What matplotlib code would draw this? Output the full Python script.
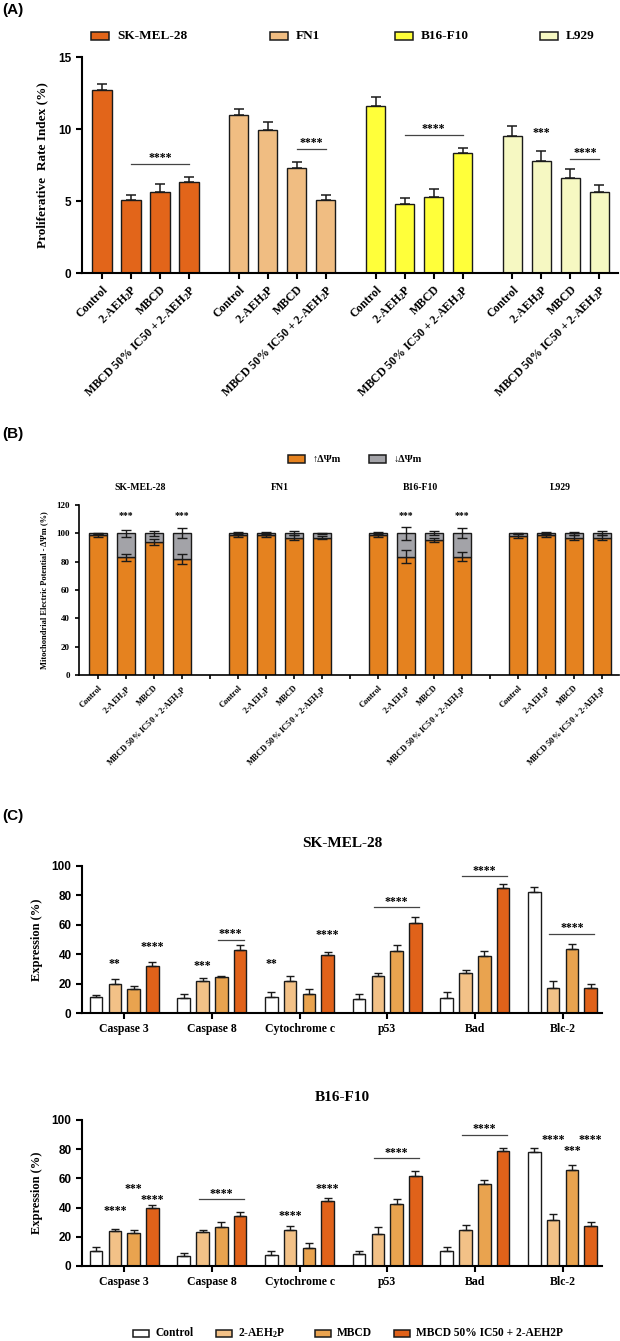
import numpy as np
import matplotlib
matplotlib.use("Agg")
import matplotlib.pyplot as plt
from matplotlib.patches import Rectangle

# ---- data -------------------------------------------------------------
cells = ["SK-MEL-28", "FN1", "B16-F10", "L929"]
treat_labels = ["Control", "2-AEH$_2$P", "MBCD", "MBCD 50% IC50 + 2-AEH$_2$P"]

# (A) proliferative rate index (%)
prolif_mean = [[12.7, 5.1, 5.6, 6.3],
               [11.0, 9.9, 7.3, 5.1],
               [11.6, 4.8, 5.3, 8.3],
               [9.5, 7.8, 6.6, 5.6]]
prolif_err = [[0.4, 0.3, 0.6, 0.4],
              [0.4, 0.6, 0.4, 0.3],
              [0.6, 0.4, 0.5, 0.4],
              [0.7, 0.7, 0.6, 0.5]]
# (group, first bar, last bar, height, stars)
prolif_lines = [(0, 1, 3, 7.6, "****"), (1, 2, 3, 8.6, "****"),
                (2, 1, 3, 9.6, "****"), (3, 2, 3, 7.9, "****")]
prolif_stars = [(3, 1, 9.7, "***")]

# (B) mitochondrial potential, share of high potential (rest up to 100 is low)
dpsi_high = [[98.5, 83.0, 94.0, 82.0],
             [98.5, 98.5, 97.0, 97.0],
             [98.5, 83.5, 95.5, 83.5],
             [98.0, 98.5, 97.0, 97.0]]
dpsi_high_err = [[1.0, 2.5, 2.0, 3.5],
                 [1.0, 1.0, 1.5, 1.0],
                 [1.0, 4.5, 1.5, 3.0],
                 [1.5, 1.0, 1.5, 1.5]]
dpsi_low_err = [[0.5, 2.5, 2.0, 3.5],
                [1.0, 1.0, 1.5, 0.5],
                [1.0, 4.5, 1.5, 3.5],
                [0.5, 1.0, 1.0, 1.5]]
dpsi_stars = [(0, 1), (0, 3), (2, 1), (2, 3)]

# (C) protein expression (%)
proteins = ["Caspase 3", "Caspase 8", "Cytochrome c", "p53", "Bad", "Blc-2"]
c_labels = ["Control", "2-AEH$_2$P", "MBCD", "MBCD 50% IC50 + 2-AEH2P"]
sk_expr = [[11, 20, 16, 32], [10, 22, 24.5, 43], [11, 21.5, 13, 39.5],
           [9.5, 25, 42.5, 61.5], [10.5, 27.5, 39, 85], [82, 17, 43.5, 17]]
sk_err = [[1.5, 3, 2.5, 3], [3, 2, 1, 3], [3, 4, 3, 2],
          [3.5, 2, 4, 3.5], [3.5, 2, 3.5, 3], [4, 4.5, 3.5, 2.5]]
sk_lines = [(1, 2, 3, 50), (3, 1, 3, 72), (4, 1, 3, 93), (5, 1, 3, 54)]
sk_stars = [(0, 1, 33, "**"), (0, 3, 45, "****"), (1, 1, 32, "***"),
            (2, 0, 33, "**"), (2, 3, 53, "****")]
b16_expr = [[10.5, 24, 22.5, 39.5], [7, 23, 26.5, 34.5], [7.5, 24.5, 12.5, 44.5],
            [8, 22, 42.5, 61.5], [10, 25, 56, 78.5], [78, 31.5, 66, 27.5]]
b16_err = [[2.5, 1.5, 2, 2], [2, 1.5, 3.5, 2.5], [3, 3, 3.5, 2],
           [2.5, 4.5, 3.5, 3.5], [3, 3, 3, 2], [3, 4, 3.5, 2.5]]
b16_lines = [(1, 1, 3, 46), (3, 1, 3, 74), (4, 1, 3, 90)]
b16_stars = [(0, 1, 38, "****"), (0, 2, 53, "***"), (0, 3, 45, "****"),
             (2, 1, 34, "****"), (2, 3, 53, "****"),
             (5, 1, 86, "****"), (5, 2, 79, "***"), (5, 3, 86, "****")]

cell_colors = ["#E2651A", "#F0BD82", "#FFFF3A", "#F6F8C2"]
c_colors = ["#FFFFFF", "#F2C187", "#E9A34F", "#E0621A"]
high_color, low_color = "#E5821F", "#A3A3A8"

# ---- layout helpers ---------------------------------------------------
W, H = 620, 1341
SERIF = ["Liberation Serif", "DejaVu Serif"]
SANS = ["Liberation Sans", "DejaVu Sans"]
plt.rcParams["mathtext.fontset"] = "custom"
plt.rcParams["mathtext.rm"] = "Liberation Serif:bold"
plt.rcParams["mathtext.it"] = "Liberation Serif:bold"
plt.rcParams["mathtext.bf"] = "Liberation Serif:bold"
EDGE = "#1a1a1a"

fig = plt.figure(figsize=(W / 100, H / 100), dpi=100)


def px_axes(left, top, right, bottom):
    return fig.add_axes([left / W, 1 - bottom / H, (right - left) / W, (bottom - top) / H])


def style_axes(ax, lw=1.5):
    for s in ["top", "right"]:
        ax.spines[s].set_visible(False)
    for s in ["left", "bottom"]:
        ax.spines[s].set_linewidth(lw)
    ax.tick_params(width=lw, length=4)


def fig_legend(items, y_px, fontsize, pw=17, ph=7, gap=8):
    for x_px, color, label in items:
        fig.patches.append(Rectangle((x_px / W, 1 - (y_px + ph / 2) / H), pw / W, ph / H,
                                     transform=fig.transFigure, fc=color, ec=EDGE, lw=1.1))
        fig.text((x_px + pw + gap) / W, 1 - y_px / H, label, va="center", ha="left",
                 fontsize=fontsize, fontweight="bold", family=SERIF)


def tick_font(ax, axis, family, size):
    labels = ax.get_xticklabels() if axis == "x" else ax.get_yticklabels()
    for t in labels:
        t.set_fontfamily(family)
        t.set_fontweight("bold")
        t.set_fontsize(size)


def stars_text(ax, x, y, s, size=8.5):
    ax.text(x, y, s, ha="center", va="center", fontsize=size, fontweight="bold", family=SERIF)


# ---- (A) --------------------------------------------------------------
fig.text(2 / W, 1 - 10 / H, "(A)", fontsize=11, fontweight="bold", family=SANS, va="center")
fig_legend([(91, cell_colors[0], cells[0]), (270, cell_colors[1], cells[1]),
            (395, cell_colors[2], cells[2]), (540, cell_colors[3], cells[3])], 36, 9.5, pw=18)

axA = px_axes(82, 57, 618, 273)
stride_a = 4.72
xa_all, la_all = [], []
for g in range(4):
    x = g * stride_a + np.arange(4)
    axA.bar(x, prolif_mean[g], width=0.66, color=cell_colors[g], edgecolor=EDGE, linewidth=1.0,
            yerr=[np.zeros(4), prolif_err[g]], capsize=3.5,
            error_kw=dict(elinewidth=1.1, capthick=1.1, ecolor=EDGE))
    xa_all += list(x)
    la_all += treat_labels
for g, i0, i1, y, s in prolif_lines:
    x0, x1 = g * stride_a + i0, g * stride_a + i1
    axA.plot([x0, x1], [y, y], color="#444444", lw=0.9)
    stars_text(axA, (x0 + x1) / 2, y + 0.42, s)
for g, i, y, s in prolif_stars:
    stars_text(axA, g * stride_a + i, y, s)
axA.set_xlim(-0.69, 17.8)
axA.set_ylim(0, 15)
axA.set_yticks([0, 5, 10, 15])
axA.set_xticks(xa_all)
axA.set_xticklabels(la_all, rotation=45, ha="right", rotation_mode="anchor")
style_axes(axA)
tick_font(axA, "x", SERIF, 8.5)
tick_font(axA, "y", SANS, 8.5)
axA.set_ylabel("Proliferative  Rate Index (%)", fontsize=9.5, fontweight="bold",
               family=SERIF, labelpad=7)

# ---- (B) --------------------------------------------------------------
fig.text(2 / W, 1 - 434 / H, "(B)", fontsize=11, fontweight="bold", family=SANS, va="center")
fig_legend([(288, high_color, "↑ΔΨm"), (369, low_color, "↓ΔΨm")], 459, 7.5, pw=17)

axB = px_axes(79, 505, 619, 675)
xb_ticks, lb_ticks = [], []
for g in range(4):
    x = g * 5 + np.arange(4)
    high = np.array(dpsi_high[g])
    axB.bar(x, high, width=0.64, color=high_color, edgecolor=EDGE, linewidth=1.0)
    axB.bar(x, 100 - high, bottom=high, width=0.64, color=low_color, edgecolor=EDGE, linewidth=1.0)
    axB.errorbar(x, high, yerr=dpsi_high_err[g], fmt="none", ecolor=EDGE, elinewidth=1.0,
                 capsize=3.5, capthick=1.0)
    axB.errorbar(x, np.full(4, 100.0), yerr=dpsi_low_err[g], fmt="none", ecolor=EDGE,
                 elinewidth=1.0, capsize=3.5, capthick=1.0)
    axB.text(g * 5 + 1.5, 132, cells[g], ha="center", va="center", fontsize=7,
             fontweight="bold", family=SERIF)
    xb_ticks += list(x)
    lb_ticks += treat_labels
    if g < 3:
        xb_ticks.append(g * 5 + 4)
        lb_ticks.append("")
for g, i in dpsi_stars:
    stars_text(axB, g * 5 + i, 112.6, "***", size=7)
axB.set_xlim(-0.68, 18.6)
axB.set_ylim(0, 120)
axB.set_yticks(np.arange(0, 121, 20))
axB.set_xticks(xb_ticks)
axB.set_xticklabels(lb_ticks, rotation=45, ha="right", rotation_mode="anchor")
style_axes(axB, lw=1.2)
axB.tick_params(length=3)
tick_font(axB, "x", SERIF, 6)
tick_font(axB, "y", SERIF, 6.5)
axB.set_ylabel("Mitochondrial Electric Potential - ΔΨm (%)", fontsize=6, fontweight="bold",
               family=SERIF, labelpad=6)

# ---- (C) --------------------------------------------------------------
fig.text(2 / W, 1 - 816 / H, "(C)", fontsize=11, fontweight="bold", family=SANS, va="center")
stride_c = 4.67


def expr_panel(ax, title, expr, err, lines, stars):
    for g in range(len(proteins)):
        x = g * stride_c + np.arange(4) - 1.5
        ax.bar(x, expr[g], width=0.67, color=c_colors, edgecolor=EDGE, linewidth=1.0,
               yerr=[np.zeros(4), err[g]], capsize=2.8,
               error_kw=dict(elinewidth=1.0, capthick=1.0, ecolor=EDGE))
    for g, i0, i1, y in lines:
        x0, x1 = g * stride_c + i0 - 1.5, g * stride_c + i1 - 1.5
        ax.plot([x0 - 0.2, x1 + 0.2], [y, y], color="#444444", lw=0.9)
        stars_text(ax, (x0 + x1) / 2, y + 3.5, "****")
    for g, i, y, s in stars:
        stars_text(ax, g * stride_c + i - 1.5, y, s)
    ax.set_xlim(-2.25, 25.45)
    ax.set_ylim(0, 100)
    ax.set_yticks(np.arange(0, 101, 20))
    ax.set_xticks(np.arange(len(proteins)) * stride_c)
    ax.set_xticklabels(proteins)
    style_axes(ax)
    tick_font(ax, "x", SERIF, 8.5)
    tick_font(ax, "y", SANS, 8.5)
    ax.set_ylabel("Expression (%)", fontsize=9, fontweight="bold", family=SERIF, labelpad=6)
    ax.set_title(title, fontsize=11, fontweight="bold", family=SERIF, pad=14)


axC1 = px_axes(82, 866, 602, 1013)
expr_panel(axC1, "SK-MEL-28", sk_expr, sk_err, sk_lines, sk_stars)
axC2 = px_axes(82, 1120, 602, 1266)
expr_panel(axC2, "B16-F10", b16_expr, b16_err, b16_lines, b16_stars)

fig_legend([(133, c_colors[0], c_labels[0]), (216, c_colors[1], c_labels[1]),
            (315, c_colors[2], c_labels[2]), (394, c_colors[3], c_labels[3])], 1333, 8.3,
           pw=16, gap=6)

fig.savefig("out.png", dpi=100)
